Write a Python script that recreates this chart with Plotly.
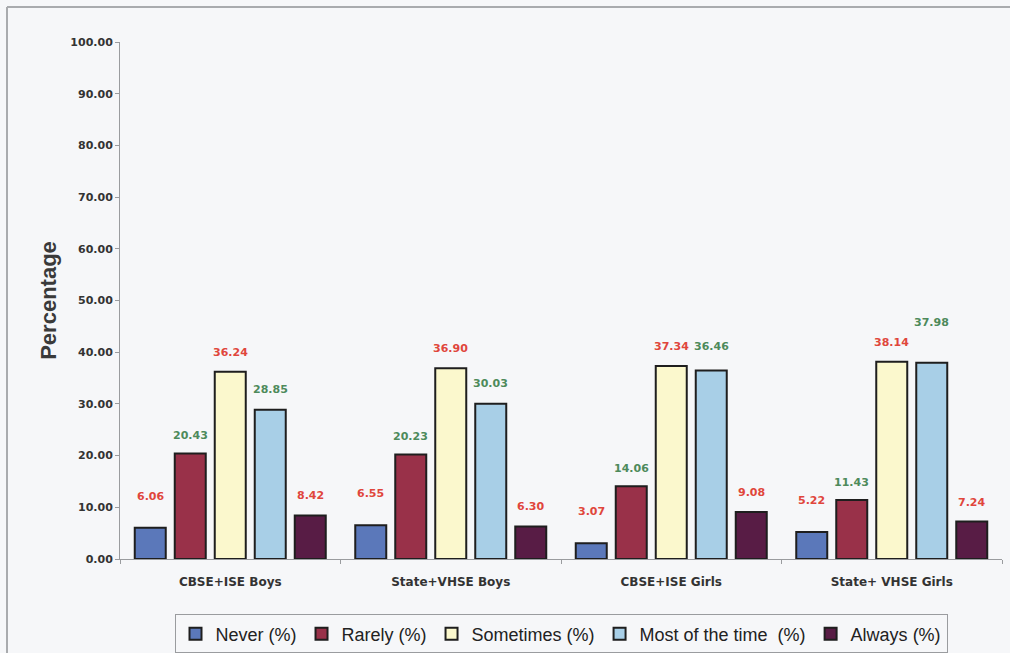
import plotly.graph_objects as go

# Survey groups and response frequencies (percent of respondents)
groups = ["CBSE+ISE Boys", "State+VHSE Boys", "CBSE+ISE Girls", "State+ VHSE Girls"]
never = [6.06, 6.55, 3.07, 5.22]
rarely = [20.43, 20.23, 14.06, 11.43]
sometimes = [36.24, 36.90, 37.34, 38.14]
most_of_the_time = [28.85, 30.03, 36.46, 37.98]
always = [8.42, 6.30, 9.08, 7.24]

y_ticks = [0, 10, 20, 30, 40, 50, 60, 70, 80, 90, 100]

series = [
    ("Never (%)", never, "#5b78ba", "#e0463c"),
    ("Rarely (%)", rarely, "#993149", "#4d8a5b"),
    ("Sometimes (%)", sometimes, "#fbf8cd", "#e0463c"),
    ("Most of the time  (%)", most_of_the_time, "#a8cfe7", "#4d8a5b"),
    ("Always (%)", always, "#581c45", "#e0463c"),
]

# vertical lift (px) of each value label above its bar
label_lift = [31, 17, 19, 20, 19]
label_lift_override = {(2, 3): 24, (3, 3): 40}

BARGAP = 0.093
GROUPGAP = 0.225
BG = "#f6f7f9"
WIDE_BOLD = "DejaVu Sans, Verdana, sans-serif"

fig = go.Figure()
for name, vals, color, _ in series:
    fig.add_trace(go.Bar(
        name=name, x=groups, y=vals,
        marker=dict(color=color, line=dict(color="#1e1e1e", width=2)),
    ))

slot = (1 - BARGAP) / len(series)
for si, (name, vals, _, txtcol) in enumerate(series):
    for gi, v in enumerate(vals):
        fig.add_annotation(
            x=gi + (si - (len(series) - 1) / 2) * slot, y=v,
            xref="x", yref="y",
            text=f"{v:.2f}", showarrow=False,
            yanchor="bottom",
            yshift=label_lift_override.get((gi, si), label_lift[si]) - 8,
            font=dict(family=WIDE_BOLD, size=11, color=txtcol, weight="bold"),
        )

# outer chart frame
fig.add_shape(type="line", xref="paper", yref="paper",
              x0=-113 / 882, x1=1.01, y0=(559 - 7) / 517, y1=(559 - 7) / 517,
              line=dict(color="#a9abae", width=2))
fig.add_shape(type="line", xref="paper", yref="paper",
              x0=-113 / 882, x1=-113 / 882, y0=(559 - 7) / 517, y1=-0.2,
              line=dict(color="#a9abae", width=2))

fig.update_layout(
    width=1010, height=653,
    margin=dict(l=120, r=8, t=42, b=94, autoexpand=False),
    paper_bgcolor=BG, plot_bgcolor=BG,
    barmode="group", bargap=BARGAP, bargroupgap=GROUPGAP,
    font=dict(family="Arial, Liberation Sans, sans-serif", color="#333333"),
    showlegend=True,
    legend=dict(
        orientation="h", x=0.5, xanchor="center", y=-0.145, yanchor="middle",
        bgcolor=BG, bordercolor="#9a9c9f", borderwidth=1,
        font=dict(family="Arial, Liberation Sans, sans-serif",
                  size=18, color="#222222"),
        itemwidth=30, tracegroupgap=0,
    ),
    xaxis=dict(
        type="category", showline=True, linecolor="#9a9c9f", linewidth=1,
        ticks="outside", tickson="boundaries", ticklen=4, tickcolor="#9a9c9f",
        showgrid=False, range=[-0.5, 3.5],
        tickfont=dict(family=WIDE_BOLD, size=12, color="#333333", weight="bold"),
        ticklabelstandoff=12,
    ),
    yaxis=dict(
        range=[0, 100], tickvals=y_ticks,
        ticktext=[f"{t:.2f}" for t in y_ticks],
        showline=True, linecolor="#9a9c9f", linewidth=1,
        ticks="outside", ticklen=4, tickcolor="#9a9c9f",
        showgrid=False, zeroline=False,
        tickfont=dict(family=WIDE_BOLD, size=11, color="#333333", weight="bold"),
        title=dict(text="Percentage",
                   font=dict(size=22, color="#3a3a3a", weight="bold"),
                   standoff=7),
    ),
)

fig.write_html("out.html")
